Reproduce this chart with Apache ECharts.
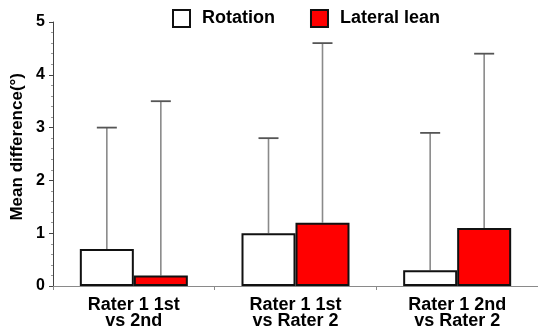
<!DOCTYPE html>
<html>
<head>
<meta charset="utf-8">
<script src="https://cdn.jsdelivr.net/npm/echarts@6/dist/echarts.min.js"></script>
<style>html,body{margin:0;padding:0;background:#fff}#c{width:538px;height:330px}</style>
</head>
<body>
<div id="c"></div>
<script>
var categories = ['Rater 1 1st\nvs 2nd', 'Rater 1 1st\nvs Rater 2', 'Rater 1 2nd\nvs Rater 2'];
var rotationMean = [0.7, 1.0, 0.3];
var rotationUpper = [3.0, 2.8, 2.9];
var lateralMean = [0.2, 1.2, 1.1];
var lateralUpper = [3.5, 4.6, 4.4];
var yTicks = [0, 1, 2, 3, 4, 5];

var FONT = '"Liberation Sans", Arial, sans-serif';
var BAR_W = 54;

function errData(mean, upper) {
  return mean.map(function (m, i) { return [i, m, upper[i]]; });
}
function errRender(offset) {
  return function (params, api) {
    var i = api.value(0);
    var lo = api.coord([i, api.value(1)]);
    var hi = api.coord([i, api.value(2)]);
    var x = lo[0] + offset;
    return {
      type: 'group',
      children: [
        { type: 'line', shape: { x1: x, y1: lo[1], x2: x, y2: hi[1] }, style: { stroke: '#8a8a8a', lineWidth: 1.6 } },
        { type: 'line', shape: { x1: x - 10, y1: hi[1], x2: x + 10, y2: hi[1] }, style: { stroke: '#555', lineWidth: 1.8 } }
      ]
    };
  };
}

var chart = echarts.init(document.getElementById('c'), null, { renderer: 'canvas' });
chart.setOption({
  animation: false,
  backgroundColor: '#fff',
  textStyle: { fontFamily: FONT },
  legend: {
    top: 9, left: 172, padding: 0, icon: 'rect',
    itemWidth: 17, itemHeight: 17, itemGap: 35,
    data: ['Rotation', 'Lateral lean'],
    textStyle: { fontFamily: FONT, fontSize: 18, fontWeight: 'bold', color: '#000', padding: [0, 0, 0, 7] }
  },
  grid: { left: 53, top: 22, height: 264, width: 490 },
  xAxis: {
    type: 'category',
    data: categories,
    axisLine: { lineStyle: { color: '#8a8a8a', width: 1 } },
    axisTick: { show: true, length: 4, lineStyle: { color: '#8a8a8a' } },
    axisLabel: { fontFamily: FONT, fontSize: 18, fontWeight: 'bold', color: '#000', margin: 11, lineHeight: 16 }
  },
  yAxis: {
    type: 'value',
    min: 0, max: 5, interval: 1,
    axisLine: { show: true, lineStyle: { color: '#444', width: 1 } },
    axisTick: { show: true, length: 4, lineStyle: { color: '#444' } },
    minorTick: { show: true, splitNumber: 5, length: 2, lineStyle: { color: '#999' } },
    splitLine: { show: false },
    axisLabel: {
      fontFamily: FONT, fontSize: 16, fontWeight: 'bold', color: '#000', margin: 8,
      formatter: function (v) { return yTicks.indexOf(v) >= 0 ? String(v) : ''; }
    }
  },
  graphic: [{
    type: 'text', left: 9, top: 73, rotation: Math.PI / 2,
    style: { text: 'Mean difference(°)', font: 'bold 17px ' + FONT, fill: '#000' }
  }],
  series: [
    {
      name: 'Rotation', type: 'bar', data: rotationMean, barWidth: BAR_W, barGap: '0%',
      itemStyle: { color: '#ffffff', borderColor: '#111', borderWidth: 2 }, z: 3
    },
    {
      name: 'Lateral lean', type: 'bar', data: lateralMean, barWidth: BAR_W, barGap: '0%',
      itemStyle: { color: '#ff0000', borderColor: '#111', borderWidth: 2 }, z: 3
    },
    {
      type: 'custom', data: errData(rotationMean, rotationUpper), renderItem: errRender(-BAR_W / 2),
      encode: { x: 0, y: [1, 2] }, z: 2, silent: true
    },
    {
      type: 'custom', data: errData(lateralMean, lateralUpper), renderItem: errRender(BAR_W / 2),
      encode: { x: 0, y: [1, 2] }, z: 2, silent: true
    }
  ]
});
</script>
</body>
</html>
